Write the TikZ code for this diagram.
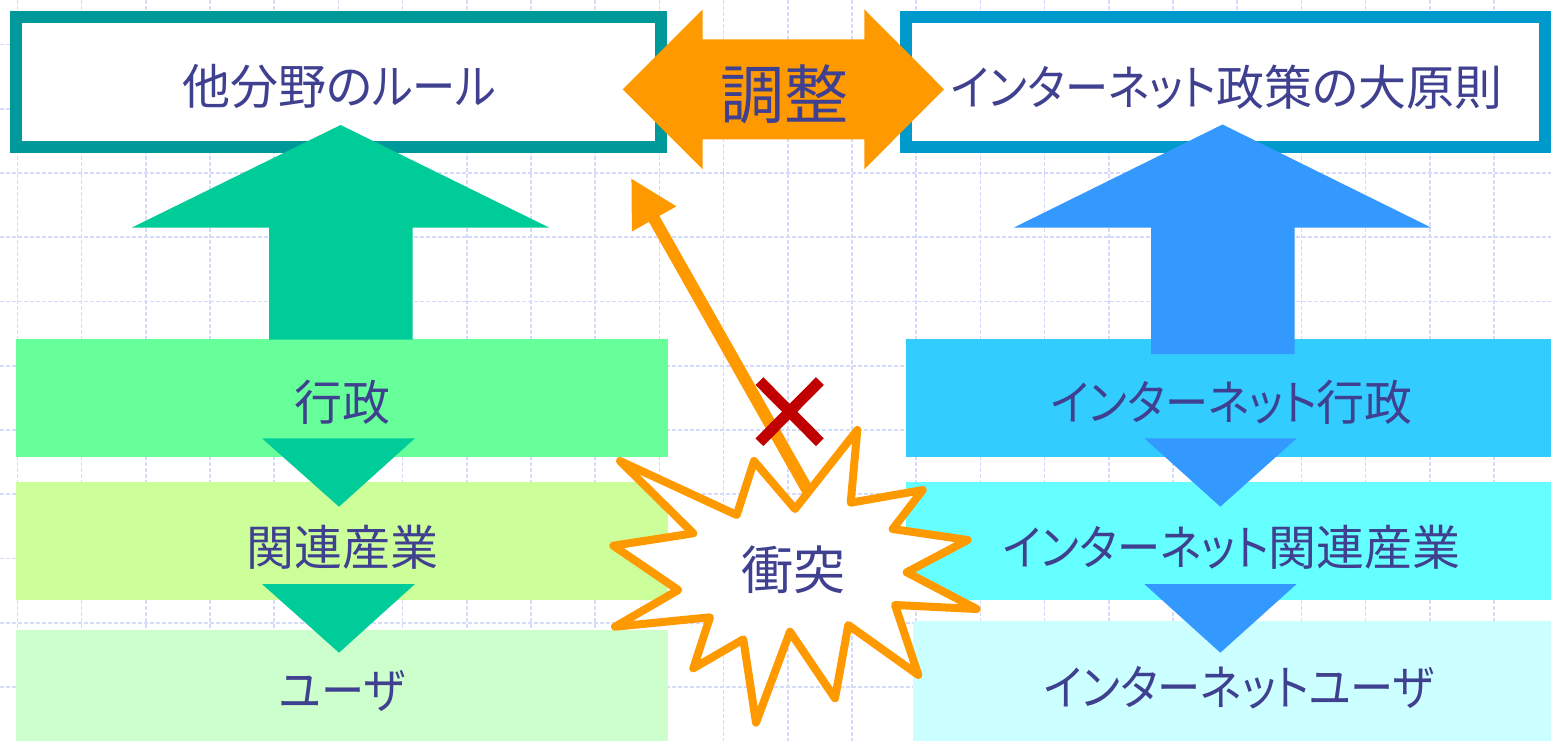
\documentclass[tikz,border=0pt]{standalone}
\usepackage{fontspec}
\newfontfamily\jp{Noto Sans CJK JP}[RawFeature=+palt]
\newfontfamily\jpk{Noto Sans CJK JP}[RawFeature=+palt, FakeStretch=0.9]
\newcommand\kn[1]{{\jpk #1}}
\usetikzlibrary{arrows.meta}
\definecolor{txtc}{HTML}{404090}
\definecolor{gridc}{HTML}{D4DCFA}
\definecolor{tealb}{HTML}{009999}
\definecolor{blueb}{HTML}{0099CC}
\definecolor{orng}{HTML}{FF9900}
\definecolor{garr}{HTML}{00CC99}
\definecolor{barr}{HTML}{3399FF}
\definecolor{lgA}{HTML}{66FF99}
\definecolor{lgB}{HTML}{CCFF99}
\definecolor{lgC}{HTML}{CCFFCC}
\definecolor{rbA}{HTML}{33CCFF}
\definecolor{rbB}{HTML}{66FFFF}
\definecolor{rbC}{HTML}{CCFFFF}
\definecolor{xred}{HTML}{C00000}
\begin{document}
\begin{tikzpicture}[x=1pt,y=-1pt,
  txt/.style={text=txtc, font=\jp\fontsize{48}{56}\selectfont, inner sep=0pt},
  bigtxt/.style={text=txtc, font=\jp\fontsize{64}{72}\selectfont, inner sep=0pt},
  box/.style={draw=none, inner sep=0pt, outer sep=0pt, anchor=north west},
  topbox/.style={fill=white, line width=12pt, inner sep=0pt, outer sep=0pt, anchor=north west},
  gridline/.style={gridc, line width=1.6pt, dash pattern=on 4pt off 2pt}]
\useasboundingbox (0,0) rectangle (1551,741);
\fill[white] (0,0) rectangle (1551,741);
% background grid
\foreach \i in {0,...,23} \draw[gridline] ({17.3+64.2*\i},0) -- ({17.3+64.2*\i},741);
\foreach \j in {0,...,10} \draw[gridline] (0,{44.5+64.25*\j}) -- (1551,{44.5+64.25*\j});
% top boxes
\node[topbox, draw=tealb, minimum width=645pt, minimum height=130pt] (rules) at (16,17) {};
\node[topbox, draw=blueb, minimum width=639pt, minimum height=130pt] (policy) at (906,17) {};
% double arrow
\fill[orng] (622.7,89.3) -- (702.7,9.3) -- (702.7,39.3) -- (864.3,39.3) -- (864.3,9.3) -- (944,89.3)
  -- (864.3,169.3) -- (864.3,139.3) -- (702.7,139.3) -- (702.7,169.3) -- cycle;
% lower boxes
\node[box, fill=lgA, minimum width=652pt, minimum height=117.5pt] (gyosei) at (16,339) {};
\node[box, fill=lgB, minimum width=652pt, minimum height=117.5pt] (sangyo) at (16,482) {};
\node[box, fill=lgC, minimum width=652pt, minimum height=111pt] (user) at (16,630) {};
\node[box, fill=rbA, minimum width=645pt, minimum height=117.5pt] (igyosei) at (906,339) {};
\node[box, fill=rbB, minimum width=645pt, minimum height=117.5pt] (isangyo) at (906,482) {};
\node[box, fill=rbC, minimum width=638pt, minimum height=120pt] (iuser) at (913,621) {};
% up arrows
\fill[garr] (340.6,125) -- (549,227.5) -- (412.5,227.5) -- (412.5,339.5) -- (269,339.5) -- (269,227.5) -- (132,227.5) -- cycle;
\fill[barr] (1222.5,124.5) -- (1431,227.5) -- (1294.6,227.5) -- (1294.6,354) -- (1151,354) -- (1151,227.5) -- (1014,227.5) -- cycle;
% down triangles
\fill[garr] (262,438.3) -- (415,438.3) -- (339,506.7) -- cycle;
\fill[garr] (262,584) -- (415,584) -- (339,652.7) -- cycle;
\fill[barr] (1144.3,438.3) -- (1296.7,438.3) -- (1220.3,506.7) -- cycle;
\fill[barr] (1144.3,584) -- (1296.7,584) -- (1220.3,652.7) -- cycle;
% orange arrow from the clash towards the adjustment
\coordinate (arrS) at (812,498);
\coordinate (arrT) at (631,178);
\draw[orng, line width=12pt, -{Triangle[length=47pt,width=47.4pt]}] (arrS) -- (arrT);
% burst
\filldraw[fill=white, draw=orng, line width=8pt, line join=round]
  (620,461) -- (736.7,515) -- (754,461) -- (795,509) -- (857.3,430) -- (850.7,502.7)
  -- (922.7,490) -- (892.7,529) -- (967.7,540) -- (906.7,572.3) -- (976.7,609) -- (895,605)
  -- (918.3,675) -- (848.3,625) -- (835,698.3) -- (790,631.7) -- (756,722.7) -- (743.3,639.3)
  -- (693.3,668.3) -- (710,617.3) -- (615,626.7) -- (678.3,590) -- (613.3,545.7) -- (693.3,533.3) -- cycle;
% red cross
\draw[xred, line width=11pt, line cap=rect] (763.3,385) -- (816,438.3);
\draw[xred, line width=11pt, line cap=rect] (816,385) -- (763.3,438.3);
% texts
\node[txt] (trules) at (339,86.5) {他分野の\kn{ルール}};
\node[bigtxt] (tadj) at (784,94) {調整};
\node[txt] (tpolicy) at (1227,87) {\kn{インターネット}政策の大原則};
\node[txt] (tgyosei) at (342,402) {行政};
\node[txt] (tsangyo) at (342,547) {関連産業};
\node[txt] (tuser) at (342,691) {\kn{ユーザ}};
\node[txt] (tigyosei) at (1232,402) {\kn{インターネット}行政};
\node[txt] (tisangyo) at (1232,547) {\kn{インターネット}関連産業};
\node[txt] (tiuser) at (1239,688) {\kn{インターネットユーザ}};
\node[txt, font=\jp\fontsize{52}{60}\selectfont] (tclash) at (793,570) {衝突};
\end{tikzpicture}
\end{document}
